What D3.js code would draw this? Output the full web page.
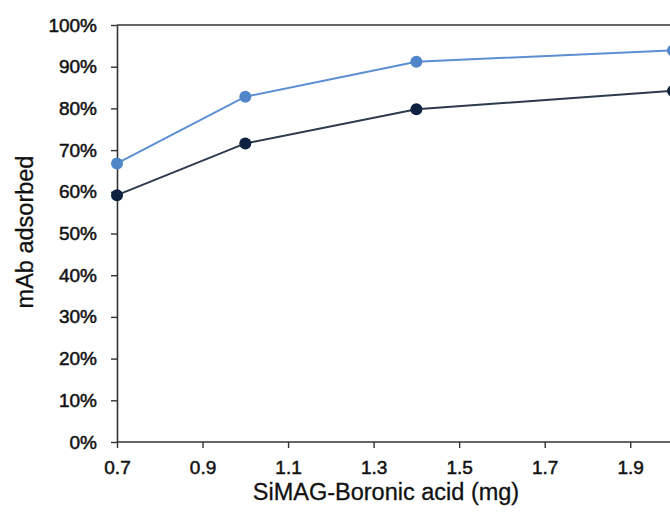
<!DOCTYPE html>
<html>
<head>
<meta charset="utf-8">
<script src="https://cdn.jsdelivr.net/npm/d3@7"></script>
<style>
  body { margin: 0; background: #fff; }
  text { font-family: "Liberation Sans", Arial, sans-serif; }
</style>
</head>
<body>
<div id="chart"></div>
<script>
// data
var doses = [0.7, 1.0, 1.4, 2.0];
var seriesLight = [0.668, 0.828, 0.912, 0.939];
var seriesDark = [0.592, 0.716, 0.798, 0.842];
var xTicks = [0.7, 0.9, 1.1, 1.3, 1.5, 1.7, 1.9];
var yTicks = [0, 0.1, 0.2, 0.3, 0.4, 0.5, 0.6, 0.7, 0.8, 0.9, 1.0];

var width = 670, height = 513;

// scales
var x = d3.scaleLinear()
	.domain([0.7, 2.0])
	.range([117, 673]);

var y = d3.scaleLinear()
	.domain([0, 1])
	.range([442, 25]);

var svg = d3.select("#chart")
	.append("svg")
	.attr("width", width)
	.attr("height", height);

// top frame line
svg.append("line")
	.attr("x1", x(0.7)).attr("x2", width + 10)
	.attr("y1", y(1)).attr("y2", y(1))
	.attr("stroke", "#333")
	.attr("stroke-width", 1.6);

// x axis
var xAxis = svg.append("g")
	.attr("transform", "translate(0," + y(0) + ")")
	.call(d3.axisBottom(x)
		.tickValues(xTicks)
		.tickFormat(d3.format(".1f"))
		.tickSize(6)
		.tickSizeOuter(0)
		.tickPadding(13));

// y axis
var yAxis = svg.append("g")
	.attr("transform", "translate(" + x(0.7) + ",0)")
	.call(d3.axisLeft(y)
		.tickValues(yTicks)
		.tickFormat(d3.format(".0%"))
		.tickSize(6)
		.tickSizeOuter(0)
		.tickPadding(14));

[xAxis, yAxis].forEach(function(g) {
	g.select(".domain").attr("stroke", "#333").attr("stroke-width", 1.6);
	g.selectAll(".tick line").attr("stroke", "#333").attr("stroke-width", 1.4);
	g.selectAll(".tick text")
		.attr("fill", "#111")
		.attr("stroke", "#111")
		.attr("stroke-width", 0.5)
		.style("font-size", "19px");
});
// extend x axis line to the right edge
xAxis.select(".domain").attr("d", "M" + x(0.7) + ",0H" + (width + 10));

// lines and markers
var line = d3.line()
	.x(function(d, i) { return x(doses[i]); })
	.y(function(d) { return y(d); });

var series = [
	{ values: seriesDark, stroke: "#2c3a4c", fill: "#0e2240" },
	{ values: seriesLight, stroke: "#5b8fd2", fill: "#4f86c8" }
];

series.forEach(function(s) {
	svg.append("path")
		.datum(s.values)
		.attr("d", line)
		.attr("fill", "none")
		.attr("stroke", s.stroke)
		.attr("stroke-width", 2);

	svg.selectAll(null)
		.data(s.values)
		.enter()
		.append("circle")
			.attr("cx", function(d, i) { return x(doses[i]); })
			.attr("cy", function(d) { return y(d); })
			.attr("r", 6)
			.attr("fill", s.fill);
});

// axis titles
svg.append("text")
	.attr("x", 386)
	.attr("y", 500)
	.attr("text-anchor", "middle")
	.attr("fill", "#111")
	.attr("stroke", "#111")
	.attr("stroke-width", 0.3)
	.style("font-size", "23.5px")
	.text("SiMAG-Boronic acid (mg)");

svg.append("text")
	.attr("transform", "translate(33,232) rotate(-90)")
	.attr("text-anchor", "middle")
	.attr("fill", "#111")
	.attr("stroke", "#111")
	.attr("stroke-width", 0.3)
	.style("font-size", "23.5px")
	.text("mAb adsorbed");
</script>
</body>
</html>
